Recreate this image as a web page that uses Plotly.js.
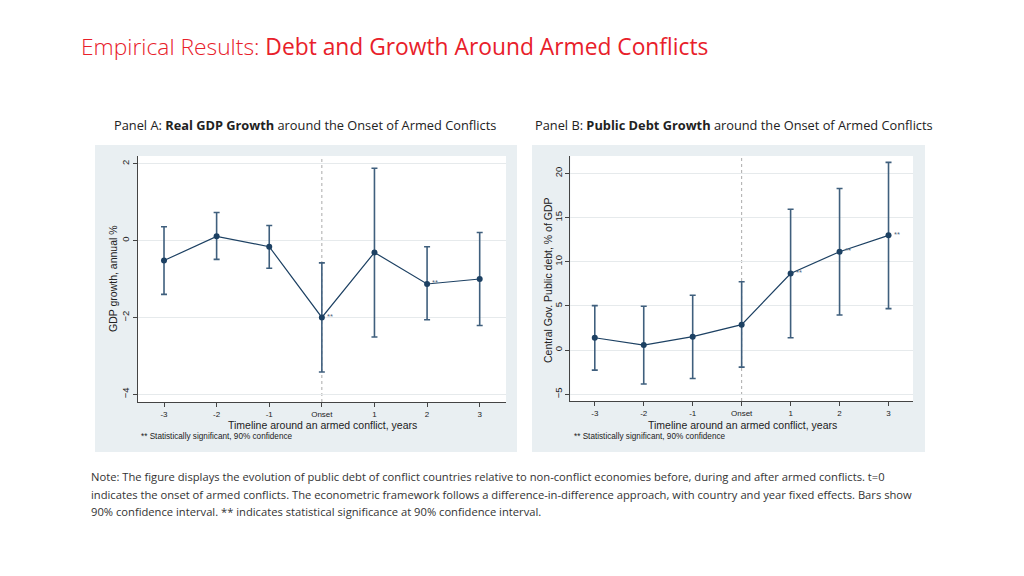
<!DOCTYPE html>
<html>
<head>
<meta charset="utf-8">
<script src="https://cdn.plot.ly/plotly-3.0.1.min.js"></script>
<style>
html,body{margin:0;padding:0;background:#fff;}
#chart{width:1024px;height:576px;}
</style>
</head>
<body>
<div id="chart"></div>
<script>
// ---- data ----
var years = [-3, -2, -1, 0, 1, 2, 3];
var yearLabels = ['-3', '-2', '-1', 'Onset', '1', '2', '3'];

// Panel A: Real GDP growth (annual %)
var gdpCoef  = [-0.52, 0.11, -0.16, -2.00, -0.31, -1.13, -1.00];
var gdpUpper = [0.36, 0.73, 0.39, -0.58, 1.88, -0.16, 0.21];
var gdpLower = [-1.40, -0.49, -0.72, -3.42, -2.51, -2.06, -2.21];
var gdpSig   = ['', '', '', '**', '', '**', ''];

// Panel B: Central gov. public debt (% of GDP)
var debtCoef  = [1.40, 0.57, 1.52, 2.88, 8.67, 11.14, 12.99];
var debtUpper = [5.04, 4.96, 6.21, 7.73, 15.95, 18.30, 21.25];
var debtLower = [-2.27, -3.83, -3.22, -1.93, 1.40, 3.98, 4.70];
var debtSig   = ['', '', '', '', '**', '**', '**'];

var gdpTicks = [-4, -2, 0, 2];
var debtTicks = [-5, 0, 5, 10, 15, 20];

// ---- styles ----
var W = 1024, H = 576;
function px(x){ return x / W; }
function py(y){ return 1 - y / H; }
var navy = '#1d4163';
var barCol = '#3f5f7d';
var axisFont = 'Liberation Sans, Arial, sans-serif';
var textFont = 'Open Sans, Noto Sans, sans-serif';

function errTrace(coef, up, lo, xa, ya){
  return {
    x: years, y: coef, xaxis: xa, yaxis: ya,
    type: 'scatter', mode: 'lines+markers',
    line: {color: navy, width: 1.2},
    marker: {color: navy, size: 6},
    error_y: {
      type: 'data', symmetric: false,
      array: up.map(function(v,i){ return v - coef[i]; }),
      arrayminus: lo.map(function(v,i){ return coef[i] - v; }),
      color: barCol, thickness: 1.6, width: 3
    },
    hoverinfo: 'skip', showlegend: false
  };
}

var traces = [
  errTrace(gdpCoef, gdpUpper, gdpLower, 'x', 'y'),
  errTrace(debtCoef, debtUpper, debtLower, 'x2', 'y2')
];

function xAxis(dom, anchor){
  return {
    domain: dom, anchor: anchor, range: [-3.5, 3.5],
    tickmode: 'array', tickvals: years, ticktext: yearLabels, tickangle: 0,
    showgrid: false, zeroline: false, showline: true, linecolor: '#444', linewidth: 1,
    ticks: 'outside', ticklen: 4, tickcolor: '#444',
    tickfont: {family: axisFont, size: 8, color: '#222'}, fixedrange: true
  };
}
function yAxis(dom, anchor, rng, tv){
  return {
    domain: dom, anchor: anchor, range: rng,
    tickmode: 'array', tickvals: tv, tickangle: -90,
    showgrid: true, gridcolor: '#e6eaec', gridwidth: 1,
    zeroline: false, showline: true, linecolor: '#444', linewidth: 1,
    ticks: 'outside', ticklen: 4, tickcolor: '#444',
    tickfont: {family: axisFont, size: 9.5, color: '#222'}, fixedrange: true
  };
}

var annotations = [];
function ann(x, y, text, opts){
  var a = {xref: 'paper', yref: 'paper', x: x, y: y, text: text, showarrow: false,
    xanchor: 'left', yanchor: 'middle', font: {family: axisFont, size: 10.5, color: '#222'}};
  for (var k in opts) a[k] = opts[k];
  annotations.push(a);
}

// Title
ann(px(79), py(46), '<span style="font-weight:300">Empirical Results: </span>Debt and Growth Around Armed Conflicts',
  {font: {family: textFont, size: 22.8, color: '#e8202a'}});
// Panel subtitles
ann(px(112), py(125), 'Panel A: <b>Real GDP Growth</b> around the Onset of Armed Conflicts',
  {font: {family: textFont, size: 12.8, color: '#222'}});
ann(px(533), py(125), 'Panel B: <b>Public Debt Growth</b> around the Onset of Armed Conflicts',
  {font: {family: textFont, size: 12.8, color: '#222'}});
// Axis titles
ann(px(322), py(424.5), 'Timeline around an armed conflict, years', {xanchor: 'center'});
ann(px(742), py(424.5), 'Timeline around an armed conflict, years', {xanchor: 'center'});
ann(px(113), py(279), 'GDP growth, annual %', {xanchor: 'center', textangle: -90});
ann(px(548), py(280), 'Central Gov. Public debt, % of GDP', {xanchor: 'center', textangle: -90});
// Footnotes
ann(px(139), py(436), '** Statistically significant, 90% confidence', {font: {family: axisFont, size: 8.2, color: '#222'}});
ann(px(572), py(436), '** Statistically significant, 90% confidence', {font: {family: axisFont, size: 8.2, color: '#222'}});
// Note
var noteLines = [
  'Note: The figure displays the evolution of public debt of conflict countries relative to non-conflict economies before, during and after armed conflicts. t=0',
  'indicates the onset of armed conflicts. The econometric framework follows a difference-in-difference approach, with country and year fixed effects. Bars show',
  '90% confidence interval. ** indicates statistical significance at 90% confidence interval.'
];
[476, 494, 511].forEach(function(yy, i){
  ann(px(89), py(yy), noteLines[i], {font: {family: textFont, size: 11.2, color: '#333'}});
});
// significance stars
function stars(sig, coef, xa, ya){
  sig.forEach(function(s, i){
    if (!s) return;
    annotations.push({xref: xa, yref: ya, x: years[i], y: coef[i], text: s, showarrow: false,
      xanchor: 'left', yanchor: 'middle', xshift: 3, yshift: 1,
      font: {family: axisFont, size: 7.5, color: '#4f6780'}});
  });
}
stars(gdpSig, gdpCoef, 'x', 'y');
stars(debtSig, debtCoef, 'x2', 'y2');

var bg = '#e9eff2';
var shapes = [
  {type: 'rect', xref: 'paper', yref: 'paper', x0: px(95), x1: px(517), y0: py(452), y1: py(145), fillcolor: bg, line: {width: 0}, layer: 'below'},
  {type: 'rect', xref: 'paper', yref: 'paper', x0: px(532), x1: px(925), y0: py(452), y1: py(145), fillcolor: bg, line: {width: 0}, layer: 'below'},
  {type: 'rect', xref: 'paper', yref: 'paper', x0: px(137.7), x1: px(506), y0: py(402), y1: py(156), fillcolor: '#fff', line: {width: 0}, layer: 'below'},
  {type: 'rect', xref: 'paper', yref: 'paper', x0: px(570.3), x1: px(913), y0: py(401), y1: py(156), fillcolor: '#fff', line: {width: 0}, layer: 'below'},
  {type: 'line', xref: 'x', yref: 'y domain', x0: 0, x1: 0, y0: 0, y1: 1, line: {color: '#aaa', width: 1, dash: 'dot'}, layer: 'below'},
  {type: 'line', xref: 'x2', yref: 'y2 domain', x0: 0, x1: 0, y0: 0, y1: 1, line: {color: '#aaa', width: 1, dash: 'dot'}, layer: 'below'}
];

var layout = {
  width: W, height: H, autosize: false,
  margin: {l: 0, r: 0, t: 0, b: 0},
  paper_bgcolor: '#fff', plot_bgcolor: 'rgba(0,0,0,0)',
  showlegend: false,
  xaxis: xAxis([px(137.7), px(506)], 'y'),
  yaxis: yAxis([py(402), py(156)], 'x', [-4.2, 2.2], gdpTicks),
  xaxis2: xAxis([px(570.3), px(913)], 'y2'),
  yaxis2: yAxis([py(401), py(156)], 'x2', [-5.76, 21.97], debtTicks),
  annotations: annotations,
  shapes: shapes
};

Plotly.newPlot('chart', traces, layout, {displayModeBar: false, staticPlot: true});
</script>
</body>
</html>
